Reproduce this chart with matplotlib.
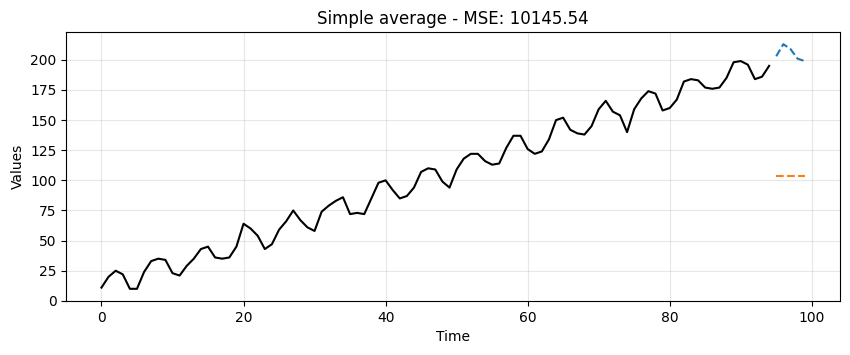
import matplotlib
matplotlib.use('Agg')
import matplotlib.pyplot as plt

# training series (t = 0..94)
train = [11, 20, 25, 22, 10, 10, 24, 33, 35, 34,
         23, 21, 29, 35, 43, 45, 36, 35, 36, 45,
         64, 60, 54, 43, 47, 59, 66, 75, 67, 61,
         58, 74, 79, 83, 86, 72, 73, 72, 85, 98,
         100, 92, 85, 87, 94, 107, 110, 109, 99, 94,
         109, 118, 122, 122, 116, 113, 114, 127, 137, 137,
         126, 122, 124, 134, 150, 152, 142, 139, 138, 145,
         159, 166, 157, 154, 140, 159, 168, 174, 172, 158,
         160, 167, 182, 184, 183, 177, 176, 177, 185, 198,
         199, 196, 184, 186, 195]
# test series (t = 95..99)
test = [203, 213, 209, 201, 199]
forecast_value = 104.0
mse = 10145.54

t_train = list(range(len(train)))
t_test = list(range(len(train), len(train) + len(test)))
forecast = [forecast_value] * len(test)

fig, ax = plt.subplots(figsize=(8.5, 3.55), dpi=100)
fig.subplots_adjust(left=0.078, right=0.988, top=0.91, bottom=0.152)

ax.plot(t_train, train, color='black', linewidth=1.5)
ax.plot(t_test, test, color='#1f77b4', linestyle='--', linewidth=1.5)
ax.plot(t_test, forecast, color='#ff7f0e', linestyle='--', linewidth=1.5)

ax.set_title(f'Simple average - MSE: {mse:.2f}')
ax.set_xlabel('Time')
ax.set_ylabel('Values')
ax.grid(True, alpha=0.3)

plt.savefig('out.png')
